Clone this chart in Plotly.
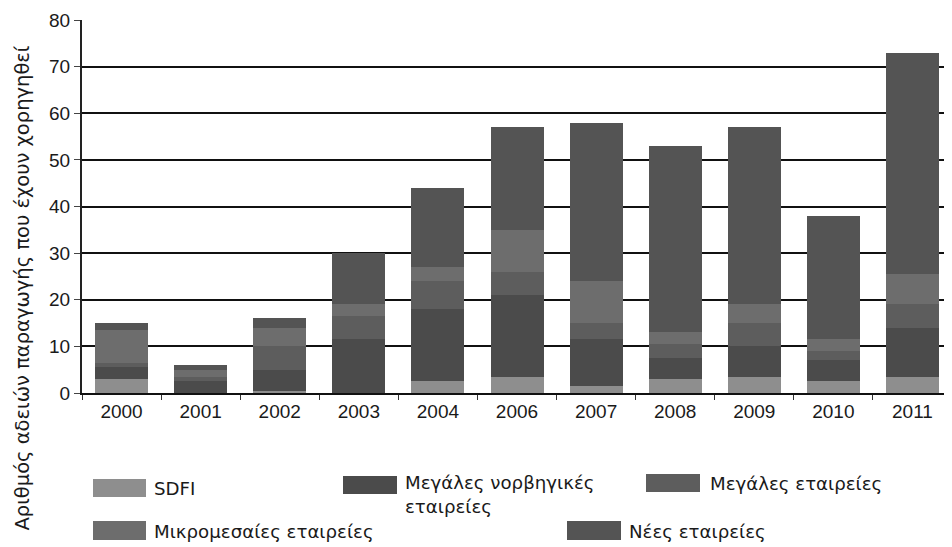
import plotly.graph_objects as go

years = ["2000", "2001", "2002", "2003", "2004", "2006", "2007", "2008", "2009", "2010", "2011"]
sdfi = [3, 0, 0.5, 0, 2.5, 3.5, 1.5, 3, 3.5, 2.5, 3.5]
megales_norv = [2.5, 2.5, 4.5, 11.5, 15.5, 17.5, 10, 4.5, 6.5, 4.5, 10.5]
megales = [1, 1, 5, 5, 6, 5, 3.5, 3, 5, 2, 5]
mikromesaies = [7, 1.5, 4, 2.5, 3, 9, 9, 2.5, 4, 2.5, 6.5]
nees = [1.5, 1, 2, 11, 17, 22, 34, 40, 38, 26.5, 47.5]

series_names = ["SDFI", "Μεγάλες νορβηγικές εταιρείες", "Μεγάλες εταιρείες",
                "Μικρομεσαίες εταιρείες", "Νέες εταιρείες"]
series_vals = [sdfi, megales_norv, megales, mikromesaies, nees]
colors = ["#8e8e8e", "#4b4b4b", "#5d5d5d", "#6d6d6d", "#545454"]

y_title = "Αριθμός αδειών παραγωγής που έχουν χορηγηθεί"
NUMFONT = "Liberation Sans, Arial, sans-serif"
TXTFONT = "DejaVu Sans, sans-serif"

OFF = 8  # page body margin
W, H = 952 - OFF, 547 - OFF
L, R, T = 82 - OFF, 0, 20 - OFF
B = H - (393 - OFF)
pw, ph = W - L - R, H - T - B

fig = go.Figure()
for name, vals, c in zip(series_names, series_vals, colors):
    fig.add_trace(go.Bar(x=years, y=vals, name=name, marker=dict(color=c, line=dict(width=0)),
                         showlegend=False))

def px(x):
    return (x - OFF - L) / pw

def py(y):
    return (H - B - (y - OFF)) / ph

# custom legend (swatch boxes + labels), positions in reference pixels
legend_items = [
    (93, 146, 479, 497, 152, 488, "SDFI"),
    (343, 397, 476, 494, 403, 494, "Μεγάλες νορβηγικές<br>εταιρείες"),
    (646, 700, 474, 492, 708, 483, "Μεγάλες εταιρείες"),
    (93, 146, 521, 540, 152, 531, "Μικρομεσαίες εταιρείες"),
    (567, 621, 521, 540, 627, 531, "Νέες εταιρείες"),
]
shapes = []
annotations = []
for (x0, x1, y0, y1, tx, ty, txt), c in zip(legend_items, colors):
    shapes.append(dict(type="rect", xref="paper", yref="paper",
                       x0=px(x0), x1=px(x1), y0=py(y1), y1=py(y0),
                       fillcolor=c, line=dict(width=0)))
    annotations.append(dict(xref="paper", yref="paper", x=px(tx), y=py(ty),
                            text=txt, showarrow=False, xanchor="left", yanchor="middle",
                            align="left", font=dict(family=TXTFONT, size=18.2, color="#1a1a1a")))

annotations.append(dict(xref="paper", yref="paper", x=px(OFF), y=py(288), text=y_title,
                        textangle=-90, showarrow=False, xanchor="left", yanchor="middle",
                        font=dict(family=TXTFONT, size=19.5, color="#1a1a1a")))

fig.update_layout(
    width=W, height=H,
    margin=dict(l=L, r=R, t=T, b=B, pad=0),
    barmode="stack", bargap=0.33,
    paper_bgcolor="white", plot_bgcolor="white",
    font=dict(family=NUMFONT, size=19, color="#1a1a1a"),
    shapes=shapes, annotations=annotations,
    xaxis=dict(type="category", range=[-0.5, 10.5], showgrid=False,
               showline=True, linecolor="#111", linewidth=2,
               ticks="outside", tickson="boundaries", ticklen=5, tickcolor="#333",
               tickfont=dict(family=NUMFONT, size=19, color="#1a1a1a")),
    yaxis=dict(range=[0, 80], dtick=10, showgrid=True, gridcolor="#111", gridwidth=2,
               zeroline=False, showline=True, linecolor="#222", linewidth=2,
               ticks="outside", ticklen=6, tickcolor="#444",
               tickfont=dict(family=NUMFONT, size=19, color="#1a1a1a")),
)

fig.write_html("out.html")
